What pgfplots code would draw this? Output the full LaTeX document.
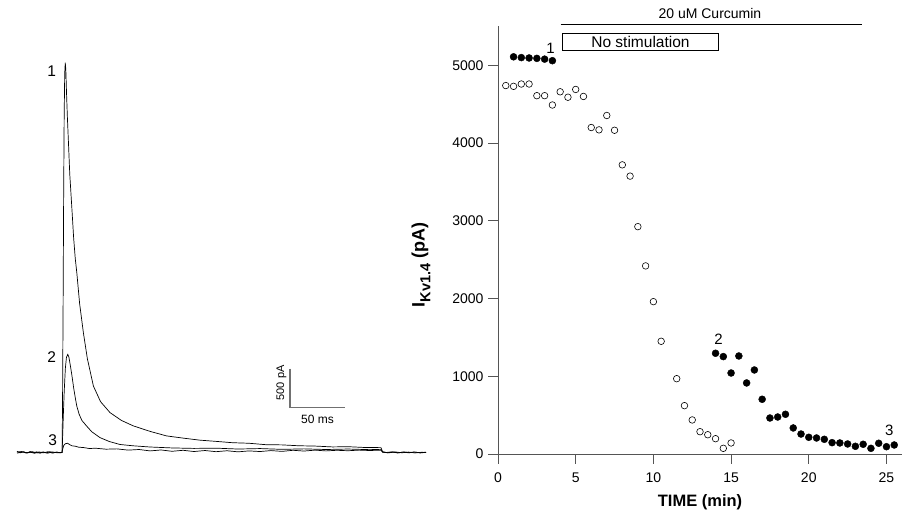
\documentclass[border=0pt]{standalone}
\usepackage{pgfplots}
\pgfplotsset{compat=1.18}
\usepackage{fontspec}
\setmainfont{Liberation Sans}
\definecolor{axgray}{HTML}{555555}
\definecolor{bargray}{HTML}{707070}
\newcommand{\fs}[1]{\fontsize{#1}{#1}\selectfont}

\pgfplotstableread{
t I
-41 15
-38 -5
-35 10
-32 -8
-29 12
-26 -3
-23 8
-20 -10
-17 6
-14 -4
-11 10
-8 -6
-5 5
-2 -3
0 0
0.4 600
0.9 1800
1.4 3200
1.9 4300
2.4 4850
2.9 4990
3.4 4900
4 4620
4.8 4300
5.7 4000
7 3560
8.8 3150
10.5 2750
12 2480
13.4 2300
16 1900
19.4 1530
23 1200
28.5 850
35 650
43.6 510
54 410
64.8 340
80 270
95 212
110 184
125 158
140 142
155 125
170 118
185 100
200 97
215 86
230 82
246 71
260 74
275 64
290 62
291.5 10
295 0
300 8
305 -6
310 5
315 -4
320 6
325 -3
331 4
}\traceA

\pgfplotstableread{
t I
-41 5
-37 12
-33 -6
-29 4
-25 -10
-21 7
-17 -5
-13 9
-9 -7
-5 4
-1 -4
0 0
0.5 200
1.2 500
2 800
3 1080
4 1220
5.2 1255
6.2 1220
7.2 1140
8.8 1000
10.5 830
12 700
13.4 593
15.5 490
18 410
22.4 337
27 265
34.5 190
43 140
52.7 102
65 85
80 70
100 58
120 52
140 55
160 44
180 50
200 40
220 46
240 38
260 44
280 36
290 40
291.5 5
296 -4
301 6
306 -5
311 7
316 -3
321 5
326 -6
331 2
}\traceB

\pgfplotstableread{
t I
-41 -8
-36 6
-31 -4
-27 9
-22 -6
-18 5
-13 -9
-9 7
-4 -5
0 0
0.5 40
1.5 90
3 112
5 118
7 100
9 85
12 80
15 68
20 62
25 50
30 55
40 42
50 46
60 30
70 38
80 20
90 32
100 15
110 28
120 12
130 25
140 10
150 22
160 8
170 20
180 12
190 24
200 14
210 28
220 18
230 30
240 20
250 28
260 22
270 30
280 25
290 30
291.5 4
297 -5
303 7
309 -4
315 5
321 -6
327 3
331 -2
}\traceC

\pgfplotstableread{
x y
1 5110
1.5 5100
2 5095
2.5 5090
3 5080
3.5 5060
}\filledA

\pgfplotstableread{
x y
14 1296
14.5 1253
15 1042
15.5 1261
16 914
16.5 1081
17 704
17.5 463
18 476
18.5 511
19 335
19.5 257
20 215
20.5 206
21 189
21.5 146
22 142
22.5 129
23 99
23.5 125
24 73
24.5 138
25 94
25.5 116
}\filledB

\pgfplotstableread{
x y
0.5 4740
1 4730
1.5 4760
2 4760
2.5 4610
3 4610
3.5 4490
4 4660
4.5 4590
5 4690
5.5 4600
6 4200
6.5 4170
7 4355
7.5 4165
8 3720
8.5 3575
9 2925
9.5 2420
10 1960
10.5 1450
11.5 969
12 622
12.5 438
13 287
13.5 248
14 197
14.5 73
15 142
}\openA

\begin{document}
\begin{tikzpicture}
\useasboundingbox (0,0) rectangle (912pt,521pt);

% ---------------- left panel: current traces ----------------
\begin{axis}[
  at={(17pt,52.9pt)}, anchor=south west,
  width=409pt, height=421.9pt, scale only axis,
  xmin=-41, xmax=331, ymin=-200, ymax=5200,
  axis lines=none, clip=false,
]
\addplot[black, line width=0.7pt] table[x=t,y=I] {\traceA};
\addplot[black, line width=0.7pt] table[x=t,y=I] {\traceB};
\addplot[black, line width=0.7pt] table[x=t,y=I] {\traceC};
\draw[bargray, line width=1.1pt] (axis cs:207.3,1073) -- (axis cs:207.3,573) -- (axis cs:257.3,573);
\node[rotate=90, anchor=center, font=\fs{11}] at (axis cs:199.5,890) {500 pA};
\node[anchor=center, font=\fs{12}] at (axis cs:232.3,418) {50 ms};
\node[anchor=center, font=\fs{15.5}] at (axis cs:-9.4,4874) {1};
\node[anchor=center, font=\fs{15.5}] at (axis cs:-9.4,1226) {2};
\node[anchor=center, font=\fs{15.5}] at (axis cs:-8.5,160) {3};
\end{axis}

% ---------------- right panel: time course ----------------
\begin{axis}[
  at={(498pt,67pt)}, anchor=south west,
  width=404pt, height=427.5pt, scale only axis,
  xmin=0, xmax=26, ymin=0, ymax=5500,
  axis x line=bottom, axis y line=left,
  axis line style={-, axgray, line width=0.8pt},
  tick style={axgray, line width=0.8pt},
  tick align=outside, major tick length=10pt,
  xtick={0,5,...,25}, ytick={0,1000,...,5000},
  /pgf/number format/assume math mode=true,
  /pgf/number format/1000 sep={},
  tick label style={font=\fs{14}},
  xticklabel style={yshift=-5pt},
  yticklabel style={xshift=-1pt},
  xlabel={\textbf{TIME (min)}},
  xlabel style={font=\fs{16.5}, at={(rel axis cs:0.5,0)}, anchor=center, yshift=-48pt},
  clip=false,
]
\addplot[only marks, mark=*, mark size=3.5pt, mark options={fill=black, draw=black}] table[x=x,y=y] {\filledA};
\addplot[only marks, mark=*, mark size=3.5pt, mark options={fill=black, draw=black}] table[x=x,y=y] {\filledB};
\addplot[only marks, mark=o, mark size=3.3pt, mark options={draw=black, fill=white, line width=0.6pt}] table[x=x,y=y] {\openA};
\draw[black, line width=0.8pt] (axis cs:4.03,5524) -- (axis cs:23.4,5524);
\node[anchor=center, font=\fs{14}] at (axis cs:13.64,5665) {20 uM Curcumin};
\draw[black, line width=0.8pt] (axis cs:4.16,5189) rectangle (axis cs:14.17,5417);
\node[anchor=center, font=\fs{15.5}] at (axis cs:9.17,5300) {No stimulation};
\node[anchor=center, font=\fs{15}] at (axis cs:3.38,5225) {1};
\node[anchor=center, font=\fs{15}] at (axis cs:14.2,1480) {2};
\node[anchor=center, font=\fs{15}] at (axis cs:25.18,305) {3};
\end{axis}

\node[rotate=90, anchor=center, font=\fs{18}\bfseries] at (421pt,256pt) {I\raisebox{-0.32em}{\fs{14.5}\bfseries Kv1.4} (pA)};
\end{tikzpicture}
\end{document}
